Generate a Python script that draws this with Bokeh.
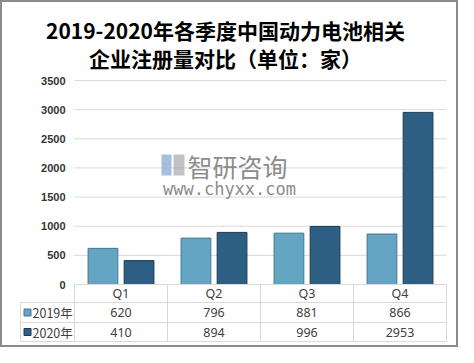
import numpy as np
from bokeh.plotting import figure
from bokeh.models import ColumnDataSource, Range1d
from bokeh.core.properties import value
from bokeh.embed import file_html
from bokeh.resources import INLINE

# ---------------- data ----------------
quarters = ["Q1", "Q2", "Q3", "Q4"]
series_names = ["2019年", "2020年"]
values_2019 = [620, 796, 881, 866]
values_2020 = [410, 894, 996, 2953]
y_ticks = [0, 500, 1000, 1500, 2000, 2500, 3000, 3500]
title_lines = ["2019-2020年各季度中国动力电池相关", "企业注册量对比（单位：家）"]
watermark_cn = "智研咨询"
watermark_url = "www.chyxx.com"

# ---------------- styles / layout (pixels) ----------------
fills = ["#64a5c4", "#2c5f83"]
edges = ["#45778f", "#1b3a50"]
grid_color = "#d9d9d9"
text_color = "#404040"

W, H = 458, 347
COL = 93          # px per quarter column
LABEL = 54        # px of table label column
COL0 = 74         # px of first column's left edge
ZERO = 284        # px of the y=0 line from top
PLOT = 204        # px for 0..3500
k = 3500 / PLOT   # data units per px
x_start = -0.5 - COL0 / COL
x_end = -0.5 + (W - COL0) / COL
y_end = ZERO * k
y_start = -(H - ZERO) * k


def dx(px):
    return x_start + px / COL


def dy(py):
    return y_end - py * k


rows_px = [18, 20, 19]
r_bounds = [0, -rows_px[0] * k, -(rows_px[0] + rows_px[1]) * k, -sum(rows_px) * k]
x_lab = -0.5 - LABEL / COL

p = figure(width=W, height=H, output_backend="svg", toolbar_location=None,
           x_range=Range1d(x_start, x_end), y_range=Range1d(y_start, y_end),
           min_border=0, title=None)
p.xaxis.visible = False
p.yaxis.visible = False
p.xgrid.visible = False
p.ygrid.visible = False
p.outline_line_color = "#8a8a8a"
p.outline_line_width = 3
p.background_fill_color = "white"
p.border_fill_color = "white"

# title
p.text(x=[dx(225)] * 2, y=[dy(29), dy(57)], text=title_lines,
       text_align="center", text_baseline="middle",
       text_font=value("Noto Sans CJK SC"), text_font_size="21px",
       text_font_style="bold", text_color="black")

# grid lines
gl = [t for t in y_ticks if t > 0]
p.segment(x0=[-0.5] * len(gl), x1=[3.5] * len(gl), y0=gl, y1=gl,
          line_color=grid_color, line_width=1)

# y tick labels
p.text(x=[-0.5] * len(y_ticks), y=y_ticks, text=[str(t) for t in y_ticks],
       x_offset=-9, text_align="right", text_baseline="middle",
       text_font=value("Liberation Sans"), text_font_size="11px",
       text_font_style="bold", text_color="#333333")

# watermark
p.quad(left=[dx(161)], right=[dx(171)], top=[dy(154)], bottom=[dy(175)],
       fill_color="#8eaedb", line_color=None, fill_alpha=0.8)
p.quad(left=[dx(173)], right=[dx(184)], top=[dy(154)], bottom=[dy(175)],
       fill_color="#9a9a9a", line_color=None, fill_alpha=0.6)
p.text(x=[dx(187)], y=[dy(165)], text=[watermark_cn], text_align="left",
       text_baseline="middle", text_font=value("Noto Sans CJK SC"),
       text_font_size="25px", text_color="#8c8c8c")
p.text(x=[dx(229)], y=[dy(188)], text=[watermark_url], text_align="center",
       text_baseline="middle", text_font=value("DejaVu Sans Mono"),
       text_font_size="17px", text_color="#8c8c8c")

# bars
idx = np.arange(len(quarters))
offset, bw = 0.194, 0.32
src = ColumnDataSource(dict(x19=idx - offset, x20=idx + offset,
                            v19=values_2019, v20=values_2020))
p.vbar(x="x19", top="v19", bottom=0, width=bw, source=src,
       fill_color=fills[0], line_color=edges[0], line_width=1)
p.vbar(x="x20", top="v20", bottom=0, width=bw, source=src,
       fill_color=fills[1], line_color=edges[1], line_width=1)

# data table lines
p.segment(x0=[-0.5, x_lab, x_lab, x_lab], x1=[3.5] * 4,
          y0=r_bounds, y1=r_bounds, line_color=grid_color, line_width=1)
vx = [-0.5, 0.5, 1.5, 2.5, 3.5]
p.segment(x0=vx, x1=vx, y0=[0] * 5, y1=[r_bounds[3]] * 5,
          line_color=grid_color, line_width=1)
p.segment(x0=[x_lab], x1=[x_lab], y0=[r_bounds[1]], y1=[r_bounds[3]],
          line_color=grid_color, line_width=1)

mid = [(r_bounds[i] + r_bounds[i + 1]) / 2 for i in range(3)]
font_tbl = value("Noto Sans")
p.text(x=list(idx), y=[mid[0]] * 4, text=quarters, text_align="center",
       text_baseline="middle", text_font=font_tbl, text_font_size="12.5px",
       text_color=text_color)
p.text(x=list(idx), y=[mid[1]] * 4, text=[str(v) for v in values_2019],
       text_align="center", text_baseline="middle", text_font=font_tbl,
       text_font_size="12.5px", text_color=text_color)
p.text(x=list(idx), y=[mid[2]] * 4, text=[str(v) for v in values_2020],
       text_align="center", text_baseline="middle", text_font=font_tbl,
       text_font_size="12.5px", text_color=text_color)

# legend keys in table
p.scatter(x=[x_lab + 7 / COL] * 2, y=[mid[1], mid[2]], marker="square", size=7,
          fill_color=fills, line_color=edges, line_width=1)
p.text(x=[x_lab + 12 / COL] * 2, y=[mid[1], mid[2]], text=series_names,
       text_align="left", text_baseline="middle",
       text_font=value("Noto Sans CJK SC"), text_font_size="12.5px",
       text_color=text_color)

open("out.html", "w").write(file_html(p, INLINE))
